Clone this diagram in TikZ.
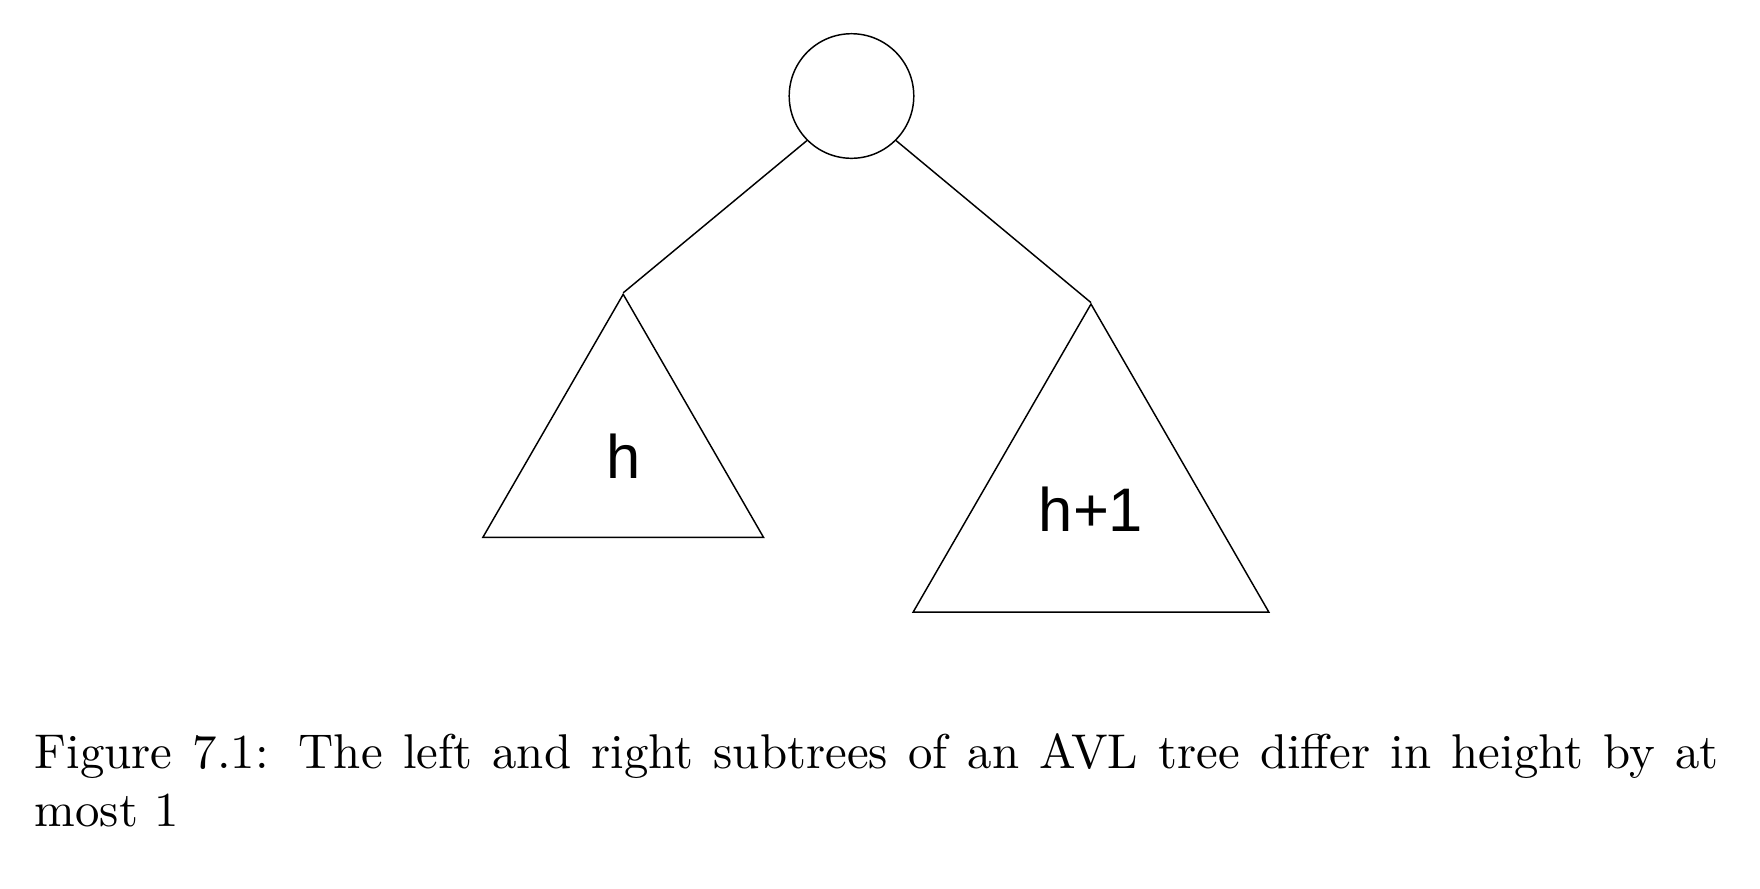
\documentclass[tikz,border=0pt]{standalone}
\usepackage{fontspec}
\newfontfamily\treefont{Liberation Sans}
\usetikzlibrary{calc,shapes}
\tikzset{
  rootnode/.style={draw,circle,inner sep=0pt,minimum size=0.897cm},
  subtree/.style={draw,regular polygon,regular polygon sides=3,
    inner sep=0pt,font=\treefont\fontsize{12.6}{15}\selectfont}
}

\begin{document}
\begin{tikzpicture}[x=0.72cm,y=0.72cm,line width=0.3pt]
\useasboundingbox (0,0) rectangle (17.6,8.88);
\node[rootnode] (root) at (8.515,7.92) {};
\node[subtree,minimum size=2.333cm] (lefttree) at (6.232,4.317) {h};
\node[subtree,minimum size=2.957cm] (righttree) at (10.91,3.786) {h+1};
\draw (root.south west) -- (lefttree.corner 1);
\draw (root.south east) -- (righttree.corner 1);
% caption below the tree
\node[anchor=base west,inner sep=0pt,text width=345pt,align=justify]
  (caption) at (0.34,1.197)
  {Figure 7.1: The left and right subtrees of an AVL tree differ in height by at\linebreak most 1};
\end{tikzpicture}
\end{document}
